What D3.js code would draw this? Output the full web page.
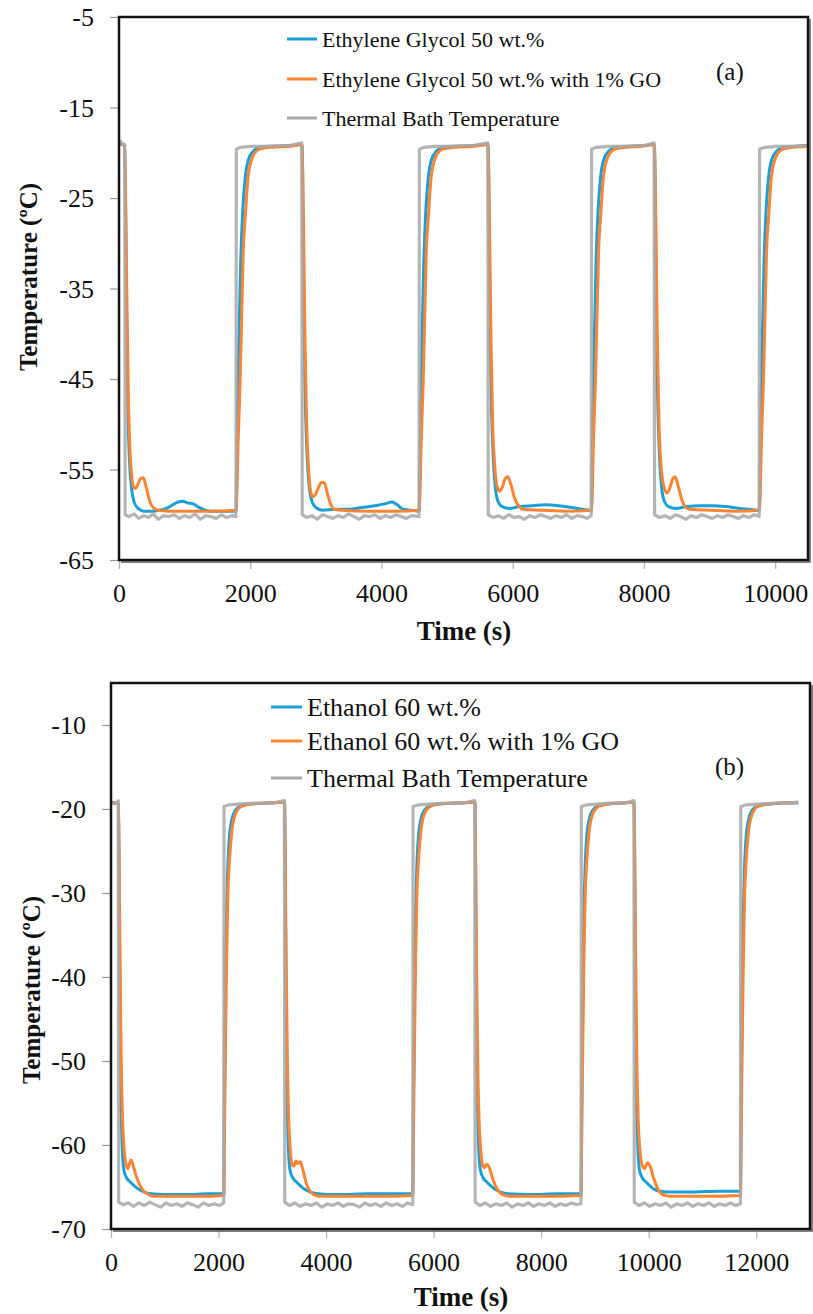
<!DOCTYPE html>
<html>
<head>
<meta charset="utf-8">
<script src="https://cdn.jsdelivr.net/npm/d3@7"></script>
<style>
  html, body { margin: 0; padding: 0; background: #fff; }
  svg { display: block; }
</style>
</head>
<body>
<svg id="chart" width="813" height="1314"></svg>
<script>
// ---------------- DATA ----------------
// Panel (a) tick labels
const aXTicks = [0, 2000, 4000, 6000, 8000, 10000];
const aYTicks = [-5, -15, -25, -35, -45, -55, -65];
// Panel (b) tick labels
const bXTicks = [0, 2000, 4000, 6000, 8000, 10000, 12000];
const bYTicks = [-10, -20, -30, -40, -50, -60, -70];

const aSeriesNames = ["Ethylene Glycol 50 wt.%", "Ethylene Glycol 50 wt.% with 1% GO", "Thermal Bath Temperature"];
const bSeriesNames = ["Ethanol 60 wt.%", "Ethanol 60 wt.% with 1% GO", "Thermal Bath Temperature"];

// Panel (a): [time s, temperature ºC]
const aBath = [
[15,-18.6],[40,-19.0],[88,-19.1],[94,-60.0],
[150,-60.2],[230,-59.9],[300,-60.4],[380,-60.1],[450,-60.3],[520,-59.9],[600,-60.5],[680,-60.1],[760,-60.2],[840,-60.0],[920,-60.4],[1000,-60.1],[1080,-60.3],[1160,-59.9],[1240,-60.5],[1320,-60.1],[1400,-60.2],[1480,-60.4],[1560,-60.0],[1640,-60.3],[1720,-60.1],[1782,-60.2],
[1788,-19.6],[1850,-19.4],[2000,-19.3],[2200,-19.3],[2400,-19.2],[2600,-19.2],[2785,-18.9],
[2792,-60.0],[2860,-60.3],[2940,-60.1],[3020,-60.5],[3100,-60.0],[3180,-60.2],[3260,-60.4],[3340,-60.1],[3420,-60.3],[3500,-59.9],[3580,-60.2],[3660,-60.5],[3740,-60.1],[3820,-60.2],[3900,-60.0],[3980,-60.4],[4060,-60.1],[4140,-60.3],[4220,-60.0],[4300,-60.2],[4380,-60.4],[4460,-60.1],[4572,-60.2],
[4578,-19.6],[4650,-19.4],[4800,-19.3],[5000,-19.3],[5200,-19.2],[5400,-19.2],[5620,-18.9],
[5627,-60.0],[5700,-60.3],[5780,-60.1],[5860,-60.4],[5940,-60.0],[6020,-60.3],[6100,-60.2],[6180,-60.5],[6260,-60.1],[6340,-60.3],[6420,-60.0],[6500,-60.2],[6580,-60.4],[6660,-60.1],[6740,-60.3],[6820,-60.0],[6900,-60.4],[6980,-60.1],[7060,-60.2],[7130,-60.4],[7196,-60.1],
[7202,-19.6],[7280,-19.4],[7450,-19.3],[7650,-19.3],[7850,-19.2],[8000,-19.2],[8155,-18.9],
[8162,-60.0],[8240,-60.3],[8320,-60.1],[8400,-60.4],[8480,-60.0],[8560,-60.2],[8640,-60.5],[8720,-60.1],[8800,-60.3],[8880,-60.0],[8960,-60.2],[9040,-60.4],[9120,-60.1],[9200,-60.3],[9280,-60.0],[9360,-60.2],[9440,-60.4],[9520,-60.1],[9600,-60.3],[9680,-60.0],[9756,-60.2],
[9762,-19.6],[9850,-19.4],[10000,-19.3],[10200,-19.3],[10480,-19.2]
];
const aEG = [
[15,-19.0],[85,-19.2],[100,-26],[115,-38],[135,-48],[160,-54],[190,-57],[230,-58.6],[290,-59.3],[380,-59.6],[500,-59.6],[620,-59.5],[720,-59.3],[820,-58.9],[900,-58.6],[970,-58.5],[1050,-58.7],[1130,-58.8],[1200,-59.1],[1280,-59.4],[1400,-59.6],[1600,-59.6],[1784,-59.6],
[1795,-56],[1810,-48],[1830,-40],[1855,-32],[1885,-26.5],[1920,-23],[1970,-20.8],[2050,-19.8],[2150,-19.4],[2400,-19.3],[2600,-19.2],[2788,-19.1],
[2805,-27],[2822,-40],[2845,-49],[2870,-54],[2900,-57],[2940,-58.5],[3000,-59.2],[3100,-59.5],[3300,-59.4],[3500,-59.4],[3700,-59.2],[3900,-59.0],[4050,-58.8],[4160,-58.6],[4240,-58.9],[4330,-59.4],[4450,-59.5],[4574,-59.6],
[4585,-56],[4600,-48],[4620,-40],[4645,-32],[4675,-26.5],[4710,-23],[4760,-20.8],[4840,-19.8],[4940,-19.4],[5200,-19.3],[5400,-19.2],[5622,-19.1],
[5640,-27],[5657,-40],[5680,-49],[5705,-54],[5735,-57],[5775,-58.5],[5840,-59.1],[5950,-59.3],[6100,-59.1],[6300,-59.0],[6500,-58.9],[6700,-59.0],[6900,-59.2],[7050,-59.4],[7198,-59.5],
[7210,-56],[7225,-48],[7245,-40],[7270,-32],[7300,-26.5],[7335,-23],[7385,-20.8],[7465,-19.8],[7565,-19.4],[7800,-19.3],[8000,-19.2],[8158,-19.1],
[8175,-27],[8192,-40],[8215,-49],[8240,-54],[8270,-57],[8310,-58.5],[8375,-59.1],[8480,-59.3],[8650,-59.1],[8850,-59.0],[9050,-59.0],[9250,-59.1],[9450,-59.3],[9600,-59.4],[9758,-59.5],
[9770,-56],[9785,-48],[9805,-40],[9830,-32],[9860,-26.5],[9895,-23],[9945,-20.8],[10025,-19.8],[10125,-19.4],[10300,-19.3],[10480,-19.2]
];
const aEGGO = [
[15,-19.0],[85,-19.2],[100,-24],[118,-35],[140,-46],[165,-52.5],[195,-55.8],[225,-57.0],[250,-57.1],[290,-56.6],[330,-56.0],[370,-55.9],[410,-56.8],[460,-58.3],[520,-59.2],[600,-59.5],[800,-59.6],[1100,-59.6],[1400,-59.6],[1784,-59.5],
[1795,-58],[1815,-52],[1845,-45.5],[1870,-38],[1893,-31],[1925,-27],[1970,-22.5],[2040,-20.4],[2140,-19.6],[2300,-19.4],[2600,-19.3],[2788,-19.1],
[2800,-22],[2815,-30],[2835,-41],[2860,-50],[2890,-55],[2920,-57.4],[2950,-58.0],[2990,-57.8],[3040,-57.0],[3090,-56.4],[3130,-56.5],[3180,-57.8],[3230,-58.9],[3280,-59.4],[3400,-59.5],[3800,-59.6],[4200,-59.6],[4574,-59.5],
[4585,-58],[4605,-52],[4635,-45.5],[4660,-38],[4683,-31],[4715,-27],[4760,-22.5],[4830,-20.4],[4930,-19.6],[5100,-19.4],[5400,-19.3],[5622,-19.1],
[5635,-22],[5650,-30],[5670,-41],[5695,-50],[5725,-54.5],[5760,-56.8],[5800,-57.4],[5840,-57.0],[5885,-56.0],[5925,-55.8],[5970,-56.6],[6030,-58.2],[6100,-59.1],[6160,-59.4],[6400,-59.5],[6800,-59.6],[7198,-59.5],
[7210,-58],[7230,-52],[7260,-45.5],[7285,-38],[7308,-31],[7340,-27],[7385,-22.5],[7455,-20.4],[7555,-19.6],[7700,-19.4],[7950,-19.3],[8158,-19.1],
[8170,-22],[8185,-30],[8205,-41],[8230,-50],[8260,-54.5],[8300,-56.8],[8350,-57.6],[8395,-57.0],[8440,-56.0],[8475,-55.8],[8520,-56.8],[8580,-58.4],[8640,-59.2],[8700,-59.4],[9000,-59.5],[9400,-59.6],[9758,-59.5],
[9770,-58],[9790,-52],[9820,-45.5],[9845,-38],[9868,-31],[9900,-27],[9945,-22.5],[10015,-20.4],[10115,-19.6],[10250,-19.4],[10480,-19.3]
];

// Panel (b): [time s, temperature ºC]
const bBath = [
[20,-19.1],[60,-19.4],[100,-19.3],[135,-19.0],[142,-66.8],
[220,-67.1],[320,-66.9],[420,-67.3],[520,-66.9],[620,-67.2],[720,-66.8],[820,-67.1],[920,-67.4],[1020,-66.9],[1120,-67.2],[1220,-67.0],[1320,-67.3],[1420,-66.9],[1520,-67.1],[1620,-67.4],[1720,-66.9],[1820,-67.2],[1920,-67.0],[2020,-67.2],[2096,-66.9],
[2102,-19.7],[2200,-19.5],[2400,-19.4],[2700,-19.3],[3000,-19.3],[3225,-19.0],
[3232,-66.8],[3320,-67.2],[3420,-66.9],[3520,-67.3],[3620,-67.0],[3720,-67.2],[3820,-66.9],[3920,-67.4],[4020,-67.0],[4120,-67.2],[4220,-66.9],[4320,-67.3],[4420,-67.0],[4520,-67.1],[4620,-67.4],[4720,-66.9],[4820,-67.2],[4920,-67.0],[5020,-67.3],[5120,-66.9],[5220,-67.2],[5320,-67.0],[5420,-67.3],[5520,-66.9],[5611,-67.1],
[5618,-19.7],[5720,-19.5],[5950,-19.4],[6250,-19.3],[6550,-19.3],[6765,-19.0],
[6772,-66.8],[6860,-67.2],[6960,-66.9],[7060,-67.3],[7160,-67.0],[7260,-67.2],[7360,-66.9],[7460,-67.4],[7560,-67.0],[7660,-67.2],[7760,-66.9],[7860,-67.3],[7960,-67.0],[8060,-67.2],[8160,-66.9],[8260,-67.3],[8360,-67.0],[8460,-67.2],[8560,-66.9],[8660,-67.1],[8741,-67.0],
[8748,-19.7],[8850,-19.5],[9050,-19.4],[9300,-19.3],[9550,-19.3],[9725,-19.0],
[9732,-66.8],[9820,-67.2],[9920,-66.9],[10020,-67.3],[10120,-67.0],[10220,-67.2],[10320,-66.9],[10420,-67.4],[10520,-67.0],[10620,-67.2],[10720,-66.9],[10820,-67.3],[10920,-67.0],[11020,-67.2],[11120,-66.9],[11220,-67.3],[11320,-67.0],[11420,-67.2],[11520,-66.9],[11620,-67.2],[11706,-67.0],
[11713,-19.7],[11820,-19.5],[12050,-19.4],[12400,-19.3],[12780,-19.2]
];
const bEth = [
[20,-19.2],[100,-19.3],[138,-19.4],[150,-27],[165,-42],[185,-54],[210,-60.5],[240,-63.0],[290,-63.9],[360,-64.4],[440,-64.9],[520,-65.3],[620,-65.6],[750,-65.8],[1000,-65.9],[1400,-65.9],[1800,-65.8],[2098,-65.8],
[2108,-56],[2125,-44],[2145,-34],[2170,-27.5],[2200,-23.5],[2250,-21.2],[2320,-20.1],[2420,-19.6],[2600,-19.4],[2900,-19.3],[3228,-19.2],
[3240,-27],[3255,-42],[3275,-54],[3300,-60.5],[3330,-63.0],[3380,-63.9],[3450,-64.4],[3530,-64.9],[3610,-65.3],[3710,-65.6],[3840,-65.8],[4200,-65.9],[4800,-65.8],[5300,-65.8],[5613,-65.8],
[5623,-56],[5640,-44],[5660,-34],[5685,-27.5],[5715,-23.5],[5765,-21.2],[5835,-20.1],[5935,-19.6],[6100,-19.4],[6450,-19.3],[6768,-19.2],
[6780,-27],[6795,-42],[6815,-54],[6840,-60.5],[6870,-63.0],[6920,-63.9],[6990,-64.4],[7070,-64.9],[7150,-65.3],[7250,-65.6],[7380,-65.8],[7800,-65.9],[8300,-65.8],[8743,-65.8],
[8753,-56],[8770,-44],[8790,-34],[8815,-27.5],[8845,-23.5],[8895,-21.2],[8965,-20.1],[9065,-19.6],[9250,-19.4],[9500,-19.3],[9728,-19.2],
[9740,-27],[9755,-42],[9775,-54],[9800,-60.5],[9830,-63.0],[9880,-63.9],[9950,-64.4],[10030,-64.9],[10110,-65.3],[10210,-65.5],[10340,-65.6],[10800,-65.6],[11300,-65.5],[11708,-65.5],
[11718,-56],[11735,-44],[11755,-34],[11780,-27.5],[11810,-23.5],[11860,-21.2],[11930,-20.1],[12030,-19.6],[12250,-19.4],[12500,-19.3],[12780,-19.3]
];
const bEthGO = [
[20,-19.3],[100,-19.3],[138,-19.4],[150,-25],[168,-38],[190,-50],[215,-57],[245,-60.5],[280,-62.3],[315,-62.8],[345,-62.2],[375,-61.8],[410,-62.4],[460,-63.5],[530,-64.7],[610,-65.5],[700,-65.9],[800,-66.1],[1200,-66.1],[1600,-66.1],[2098,-66.0],
[2108,-60],[2130,-48],[2150,-38],[2175,-30],[2200,-26.5],[2250,-22.5],[2320,-20.5],[2420,-19.7],[2600,-19.4],[2900,-19.3],[3228,-19.2],
[3240,-25],[3258,-38],[3280,-50],[3305,-57],[3335,-60.5],[3370,-62.4],[3400,-62.5],[3440,-61.9],[3475,-62.2],[3520,-62.0],[3570,-63.0],[3620,-64.3],[3690,-65.4],[3770,-65.9],[3870,-66.1],[4400,-66.1],[5000,-66.1],[5613,-66.0],
[5623,-60],[5645,-48],[5665,-38],[5690,-30],[5715,-26.5],[5765,-22.5],[5835,-20.5],[5935,-19.7],[6100,-19.4],[6450,-19.3],[6768,-19.2],
[6780,-25],[6798,-38],[6820,-50],[6845,-57],[6875,-60.5],[6910,-62.4],[6945,-62.7],[6985,-62.3],[7030,-62.6],[7090,-63.8],[7160,-65.0],[7240,-65.7],[7320,-66.0],[7420,-66.1],[8000,-66.1],[8743,-66.0],
[8753,-60],[8775,-48],[8795,-38],[8820,-30],[8845,-26.5],[8895,-22.5],[8965,-20.5],[9065,-19.7],[9250,-19.4],[9500,-19.3],[9728,-19.2],
[9740,-25],[9758,-38],[9780,-50],[9805,-57],[9835,-60.5],[9875,-62.3],[9920,-62.8],[9980,-62.1],[10030,-62.6],[10090,-63.9],[10160,-65.1],[10230,-65.8],[10300,-66.0],[10400,-66.1],[11000,-66.1],[11708,-66.0],
[11718,-60],[11740,-48],[11760,-38],[11785,-30],[11810,-26.5],[11860,-22.5],[11930,-20.5],[12030,-19.7],[12250,-19.4],[12500,-19.3],[12780,-19.2]
];

// ---------------- DRAWING ----------------
const COL_BLUE = "#1b9fd8", COL_ORANGE = "#fb8432", COL_GRAY = "#a8a8a8";
const SERIF = "'Liberation Serif', 'Times New Roman', serif";
const svg = d3.select("#chart");

function panel(cfg) {
  const x = d3.scaleLinear().domain(cfg.xDomain).range([cfg.left, cfg.right]);
  const y = d3.scaleLinear().domain(cfg.yDomain).range([cfg.bottom, cfg.top]);
  const g = svg.append("g");

  // y ticks (outside left)
  const yAxis = d3.axisLeft(y).tickValues(cfg.yTicks).tickSize(9).tickPadding(cfg.yPad).tickFormat(d3.format("d"));
  const ya = g.append("g").attr("transform", `translate(${cfg.left},0)`).call(yAxis);
  ya.select(".domain").remove();
  ya.selectAll(".tick line").attr("stroke", "#9a9a9a").attr("stroke-width", 1.2);
  ya.selectAll(".tick text").attr("font-family", SERIF).attr("font-size", cfg.tickFont).attr("fill", "#111")
    .attr("dy", "0.33em").text(d => d3.format("d")(d).replace("−", "-"));

  // x ticks (outside bottom)
  const xAxis = d3.axisBottom(x).tickValues(cfg.xTicks).tickSize(9).tickPadding(cfg.xPad).tickFormat(d3.format("d"));
  const xa = g.append("g").attr("transform", `translate(0,${cfg.bottom})`).call(xAxis);
  xa.select(".domain").remove();
  xa.selectAll(".tick line").attr("stroke", "#b0b0b0").attr("stroke-width", 1.2);
  xa.selectAll(".tick text").attr("font-family", SERIF).attr("font-size", cfg.tickFont).attr("fill", "#111").attr("dy", "0.71em");

  // series
  const lineSmooth = d3.line().x(d => x(d[0])).y(d => y(d[1])).curve(d3.curveMonotoneX);
  const lineLin = d3.line().x(d => x(d[0])).y(d => y(d[1]));
  g.append("path").datum(cfg.blue).attr("d", lineSmooth).attr("fill", "none")
    .attr("stroke", COL_BLUE).attr("stroke-width", 3).attr("stroke-linejoin", "round");
  g.append("path").datum(cfg.orange).attr("d", lineSmooth).attr("fill", "none")
    .attr("stroke", COL_ORANGE).attr("stroke-width", 3).attr("stroke-linejoin", "round");
  g.append("path").datum(cfg.gray).attr("d", lineLin).attr("fill", "none")
    .attr("stroke", COL_GRAY).attr("stroke-width", 3.2).attr("stroke-opacity", 0.85).attr("stroke-linejoin", "round");

  // frame
  g.append("rect").attr("x", cfg.left).attr("y", cfg.top)
    .attr("width", cfg.right - cfg.left).attr("height", cfg.bottom - cfg.top)
    .attr("fill", "none").attr("stroke", "#111").attr("stroke-width", 2.5);
  g.append("path")
    .attr("d", `M${cfg.right + 2},${cfg.top + 2} V${cfg.bottom + 2} H${cfg.left + 2}`)
    .attr("fill", "none").attr("stroke", "#555").attr("stroke-width", 1.5);

  // legend
  const names = cfg.names, cols = [COL_BLUE, COL_ORANGE, COL_GRAY];
  cfg.legRows.forEach((ry, i) => {
    g.append("line").attr("x1", cfg.legX1).attr("x2", cfg.legX2).attr("y1", ry).attr("y2", ry)
      .attr("stroke", cols[i]).attr("stroke-width", 3);
    g.append("text").attr("x", cfg.legTextX).attr("y", ry + cfg.legDy)
      .attr("font-family", SERIF).attr("font-size", cfg.legFont).attr("fill", "#111").text(names[i]);
  });

  // panel label
  g.append("text").attr("x", cfg.labX).attr("y", cfg.labY)
    .attr("font-family", SERIF).attr("font-size", 25).attr("fill", "#111").text(cfg.label);

  // axis titles
  g.append("text").attr("transform", `translate(${cfg.yTitleX},${cfg.yTitleY}) rotate(-90)`)
    .attr("text-anchor", "middle").attr("font-family", SERIF).attr("font-weight", "bold")
    .attr("font-size", 25).attr("fill", "#111").text("Temperature (ºC)");
  g.append("text").attr("x", cfg.xTitleX).attr("y", cfg.xTitleY)
    .attr("text-anchor", "middle").attr("font-family", SERIF).attr("font-weight", "bold")
    .attr("font-size", 27).attr("fill", "#111").text("Time (s)");
}

panel({
  xDomain: [0, 10500], yDomain: [-65, -5],
  left: 119, right: 808, top: 17, bottom: 560,
  xTicks: aXTicks, yTicks: aYTicks, tickFont: 26, yPad: 16, xPad: 15,
  blue: aEG, orange: aEGGO, gray: aBath,
  names: aSeriesNames, legRows: [39, 79, 118], legX1: 287, legX2: 317, legTextX: 322, legDy: 8, legFont: 22,
  label: "(a)", labX: 716, labY: 80,
  yTitleX: 37, yTitleY: 277, xTitleX: 464, xTitleY: 640
});

panel({
  xDomain: [0, 13000], yDomain: [-70, -5],
  left: 111, right: 810, top: 683, bottom: 1229,
  xTicks: bXTicks, yTicks: bYTicks, tickFont: 26, yPad: 16, xPad: 15,
  blue: bEth, orange: bEthGO, gray: bBath,
  names: bSeriesNames, legRows: [707, 741, 778], legX1: 271, legX2: 302, legTextX: 307, legDy: 9, legFont: 26,
  label: "(b)", labX: 715, labY: 775,
  yTitleX: 40, yTitleY: 990, xTitleX: 461, xTitleY: 1306
});
</script>
</body>
</html>
